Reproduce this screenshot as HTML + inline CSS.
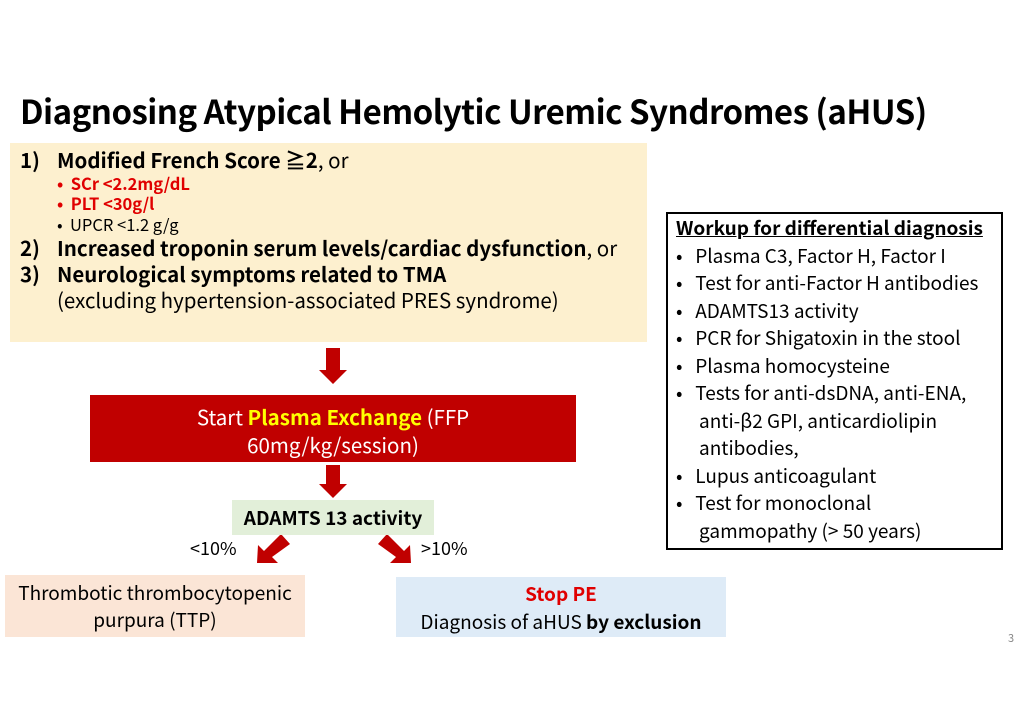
<!DOCTYPE html>
<html><head><meta charset="utf-8"><style>
body{margin:0;width:1024px;height:723px;background:#fff;position:relative;overflow:hidden;font-family:"Noto Sans CJK JP","Liberation Sans",sans-serif;color:#000}
.a{position:absolute;white-space:nowrap}
.t{left:20px;top:86px;font-size:33px;font-weight:bold;letter-spacing:-0.5px}
.box{position:absolute}
.l{position:absolute;white-space:nowrap;font-size:20.5px;line-height:24px}
.b{font-weight:bold}
.r{color:#e00000}
.s{font-size:16.5px}
</style></head><body>
<div class="a t">Diagnosing Atypical Hemolytic Uremic Syndromes (aHUS)</div>

<div class="box" style="left:10px;top:143px;width:637px;height:199px;background:#fdf0cf"></div>
<div class="l b" style="left:20px;top:147px">1)</div>
<div class="l" style="left:57px;top:147px"><b>Modified French Score ≧2</b>, or</div>
<div class="l b r s" style="left:57px;top:171px">•&nbsp; SCr &lt;2.2mg/dL</div>
<div class="l b r s" style="left:57px;top:191px">•&nbsp; PLT &lt;30g/l</div>
<div class="l s" style="left:57px;top:212px">•&nbsp; UPCR &lt;1.2 g/g</div>
<div class="l b" style="left:20px;top:235px">2)</div>
<div class="l" style="left:57px;top:235px"><b>Increased troponin serum levels/cardiac dysfunction</b>, or</div>
<div class="l b" style="left:20px;top:261px">3)</div>
<div class="l b" style="left:57px;top:261px">Neurological symptoms related to TMA</div>
<div class="l" style="left:57px;top:287px">(excluding hypertension-associated PRES syndrome)</div>

<svg class="box" style="left:0;top:0" width="1024" height="723">
<polygon points="326,348 340,348 340,370 347,370 333,384 319,370 326,370" fill="#c00000"/>
<polygon points="326,465 340,465 340,484 347,484 333,498 319,484 326,484" fill="#c00000"/>
<polygon points="281,534 290,544 272,557 278,563 257,563 258,545 264,551" fill="#c00000"/>
<polygon points="387,534 378,544 396,557 390,563 411,563 410,545 404,551" fill="#c00000"/>
</svg>

<div class="box" style="left:90px;top:395px;width:486px;height:67px;background:#c00000"></div>
<div class="l" style="left:90px;width:486px;text-align:center;top:402px;color:#fff;line-height:28px;font-size:20.5px">Start <b style="color:#ffff00">Plasma Exchange</b> (FFP</div>
<div class="l" style="left:90px;width:486px;text-align:center;top:430px;color:#fff;line-height:28px;font-size:20.5px">60mg/kg/session)</div>

<div class="box" style="left:232px;top:500px;width:202px;height:35px;background:#e2efd9"></div>
<div class="l b" style="left:232px;width:202px;text-align:center;top:506px;font-size:19px">ADAMTS 13 activity</div>
<div class="l" style="left:190px;top:536px;font-size:18px">&lt;10%</div>
<div class="l" style="left:421px;top:536px;font-size:18px">&gt;10%</div>

<div class="box" style="left:5px;top:575px;width:300px;height:62px;background:#fbe5d6"></div>
<div class="l" style="left:5px;width:300px;text-align:center;top:579px;font-size:19px;line-height:27px">Thrombotic thrombocytopenic<br>purpura (TTP)</div>
<div class="box" style="left:396px;top:577px;width:330px;height:60px;background:#deebf7"></div>
<div class="l" style="left:396px;width:330px;text-align:center;top:580px;font-size:19px;line-height:28px"><b class="r">Stop PE</b><br>Diagnosis of aHUS <b>by exclusion</b></div>
<div class="l" style="left:1008px;top:626px;font-size:11px;color:#888">3</div>

<div class="box" style="left:666px;top:212px;width:333px;height:334px;border:2px solid #000"></div>
<div style="position:absolute;left:676px;top:214px;font-size:19px;line-height:27.5px;white-space:nowrap">
<div><b><u>Workup for differential diagnosis</u></b></div>
<div>•&nbsp;&nbsp; Plasma C3, Factor H, Factor I</div>
<div>•&nbsp;&nbsp; Test for anti-Factor H antibodies</div>
<div>•&nbsp;&nbsp; ADAMTS13 activity</div>
<div>•&nbsp;&nbsp; PCR for Shigatoxin in the stool</div>
<div>•&nbsp;&nbsp; Plasma homocysteine</div>
<div>•&nbsp;&nbsp; Tests for anti-dsDNA, anti-ENA,</div>
<div style="padding-left:23px">anti-β2 GPI, anticardiolipin</div>
<div style="padding-left:23px">antibodies,</div>
<div>•&nbsp;&nbsp; Lupus anticoagulant</div>
<div>•&nbsp;&nbsp; Test for monoclonal</div>
<div style="padding-left:23px">gammopathy (&gt; 50 years)</div>
</div>
</body></html>
